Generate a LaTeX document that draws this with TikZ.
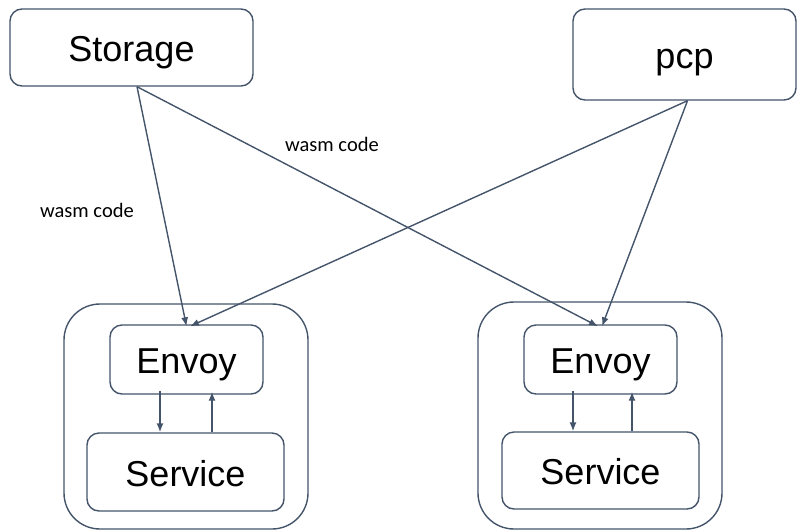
\documentclass[tikz,border=0pt]{standalone}
\usepackage{fontspec}
\setmainfont{Liberation Sans}
\newfontfamily\lblfont{Carlito}
\usetikzlibrary{arrows.meta,calc}
\definecolor{edge}{RGB}{68,84,106}
\begin{document}
\begin{tikzpicture}[x=1pt,y=-1pt,
  box/.style={draw=edge,line width=1.4pt,rounded corners=12pt,inner sep=0pt,
    font=\fontsize{36}{40}\selectfont,text=black,text height=28pt,text depth=0pt},
  outer/.style={draw=edge,line width=1.4pt,rounded corners=36pt,inner sep=0pt},
  arr/.style={draw=edge,line width=1.4pt,-{Latex[length=9pt,width=7pt]}},
  lbl/.style={font=\lblfont\fontsize{20.5}{24}\selectfont,text=black,inner sep=0pt}]
\useasboundingbox (0,0) rectangle (798,531);
% top boxes
\node[box,minimum width=243pt,minimum height=77pt] (storage) at (131.5,47.5) {Storage};
\node[box,minimum width=223pt,minimum height=91pt] (pcp) at (684.5,54.5) {pcp};
% left pod
\node[outer,minimum width=244pt,minimum height=225pt] (podL) at (186,416.5) {};
\node[box,minimum width=153pt,minimum height=69pt] (envL) at (186.5,359.5) {Envoy};
\node[box,minimum width=197pt,minimum height=78pt] (svcL) at (185.5,472) {Service};
% right pod
\node[outer,minimum width=244pt,minimum height=227pt] (podR) at (600,415.5) {};
\node[box,minimum width=153pt,minimum height=69pt] (envR) at (600.5,359.5) {Envoy};
\node[box,minimum width=197pt,minimum height=77pt] (svcR) at (600.5,470.5) {Service};
% labels
\node[lbl] (w1) at (87,210) {wasm code};
\node[lbl] (w2) at (332,144) {wasm code};
% connectors from top
\draw[arr] ([xshift=5.5pt]storage.south) -- ([yshift=-2pt]envL.north);
\draw[arr] ([xshift=5.5pt]storage.south) -- ([xshift=-2.5pt,yshift=-2pt]envR.north);
\draw[arr] ([xshift=3pt]pcp.south) -- ([xshift=3.5pt,yshift=-2pt]envL.north);
\draw[arr] ([xshift=3pt]pcp.south) -- ([xshift=1.5pt,yshift=-2pt]envR.north);
% internal arrows left
\draw[arr] ([xshift=-26.5pt,yshift=4pt]envL.south) -- ([xshift=-26.5pt]envL.south |- svcL.north);
\draw[arr] ([xshift=25.5pt]envL.south |- svcL.north) -- ([xshift=25.5pt,yshift=3pt]envL.south);
% internal arrows right
\draw[arr] ([xshift=-27.5pt,yshift=4pt]envR.south) -- ([xshift=-27.5pt]envR.south |- svcR.north);
\draw[arr] ([xshift=31.5pt]envR.south |- svcR.north) -- ([xshift=31.5pt,yshift=3pt]envR.south);
\end{tikzpicture}
\end{document}
